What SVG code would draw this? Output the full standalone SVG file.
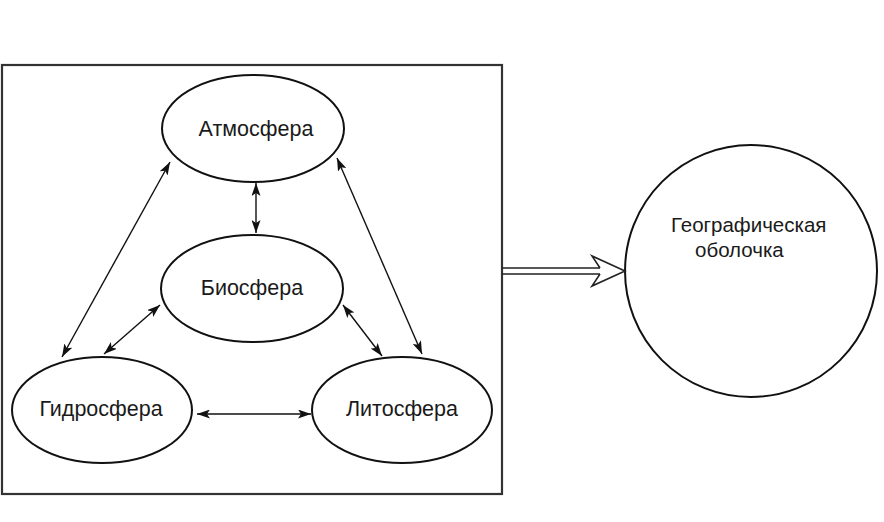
<svg xmlns="http://www.w3.org/2000/svg" width="884" height="522" viewBox="0 0 884 522">
<style>
.node{fill:#fff;stroke:#111;stroke-width:2}
.lbl{font-family:"Liberation Sans",Arial,sans-serif;font-size:21.5px;fill:#1a1a1a}
.g{font-size:20.5px}
.c{fill:none;stroke:#111;stroke-width:1.4}
</style>
<defs>
<marker id="ah" viewBox="0 0 13 9" refX="13" refY="4.5" markerWidth="13" markerHeight="9" markerUnits="userSpaceOnUse" orient="auto-start-reverse">
<path d="M0,0 L13,4.5 L0,9 L3,4.5 Z" fill="#111"/>
</marker>
</defs>
<rect width="884" height="522" fill="#fff"/>
<g id="frame"><rect x="2" y="65" width="500" height="429" fill="none" stroke="#333" stroke-width="2.2"/></g>
<g id="atmosphere"><ellipse class="node" cx="253" cy="128.5" rx="91" ry="53.5"/><text class="lbl" x="256" y="136" text-anchor="middle">Атмосфера</text></g>
<g id="biosphere"><ellipse class="node" cx="252" cy="288.5" rx="91" ry="53.5"/><text class="lbl" x="252" y="295" text-anchor="middle">Биосфера</text></g>
<g id="hydrosphere"><ellipse class="node" cx="102" cy="410" rx="90" ry="53"/><text class="lbl" x="101" y="416" text-anchor="middle">Гидросфера</text></g>
<g id="lithosphere"><ellipse class="node" cx="402" cy="410" rx="90" ry="53"/><text class="lbl" x="402" y="416" text-anchor="middle">Литосфера</text></g>
<g id="geo"><circle class="node" cx="751" cy="271" r="126"/><text class="lbl g" x="671" y="232">Географическая</text><text class="lbl g" x="695" y="257">оболочка</text></g>
<g id="connectors">
<line class="c" x1="256" y1="183" x2="256" y2="233" marker-start="url(#ah)" marker-end="url(#ah)"/>
<line class="c" x1="170" y1="162" x2="62" y2="357" marker-start="url(#ah)" marker-end="url(#ah)"/>
<line class="c" x1="337" y1="158" x2="422" y2="354" marker-start="url(#ah)" marker-end="url(#ah)"/>
<line class="c" x1="160" y1="305" x2="104" y2="354" marker-start="url(#ah)" marker-end="url(#ah)"/>
<line class="c" x1="343" y1="305" x2="382" y2="356" marker-start="url(#ah)" marker-end="url(#ah)"/>
<line class="c" x1="197" y1="414" x2="311" y2="414" marker-start="url(#ah)" marker-end="url(#ah)"/>
<path d="M502,268 H600 M502,274 H600 M600,268 L592,256 L625,271 L592,286 L600,274" fill="none" stroke="#222" stroke-width="1.6" stroke-linejoin="miter"/>
</g>
</svg>
